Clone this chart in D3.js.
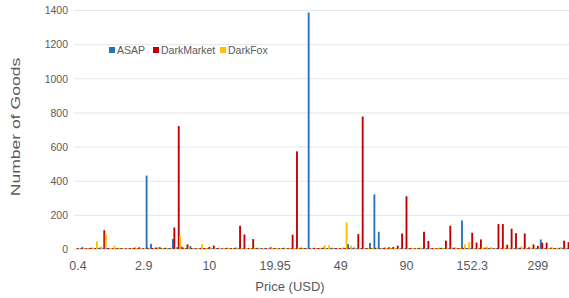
<!DOCTYPE html>
<html>
<head>
<meta charset="utf-8">
<script src="https://cdn.jsdelivr.net/npm/d3@7"></script>
<style>
  body { margin: 0; background: #fff; }
  text { font-family: "Liberation Sans", Arial, sans-serif; fill: #595959; }
</style>
</head>
<body>
<div id="chart"></div>
<script>
// ===== data =====
var seriesNames = ["ASAP", "DarkMarket", "DarkFox"];
var seriesColors = ["#2873b8", "#c00000", "#ffc000"];

// price labels shown every 15 categories
var tickLabels = ["0.4", "2.9", "10", "19.95", "49", "90", "152.3", "299"];
var tickEvery = 15;

var asap = [
    3, 5, 4, 6, 3, 5, 4, 6, 3, 4, 5, 3, 4, 6, 5,
    4, 430, 30, 8, 12, 6, 5, 58, 10, 14, 6, 17, 5, 4, 6,
    5, 4, 6, 3, 5, 4, 6, 5, 4, 3, 5, 6, 4, 5, 3,
    5, 4, 6, 3, 5, 4, 5, 6, 1385, 4, 5, 6, 4, 5, 6,
    5, 8, 28, 5, 4, 6, 5, 35, 320, 101, 6, 4, 5, 3, 5,
    4, 6, 3, 5, 4, 6, 5, 4, 6, 5, 4, 6, 5, 167, 6,
    5, 4, 6, 3, 5, 4, 6, 5, 4, 3, 5, 6, 4, 5, 3,
    5, 56, 6, 3, 5, 4, 6, 5, 4
];
var darkMarket = [
    6, 10, 5, 7, 6, 8, 110, 6, 5, 7, 6, 5, 6, 8, 10,
    5, 7, 6, 8, 5, 7, 6, 126, 720, 8, 27, 6, 5, 7, 6,
    12, 20, 6, 5, 7, 6, 8, 136, 85, 6, 58, 7, 5, 6, 10,
    6, 5, 7, 6, 84, 572, 8, 6, 5, 7, 6, 8, 5, 7, 6,
    5, 6, 7, 8, 87, 776, 6, 5, 7, 6, 8, 10, 12, 20, 91,
    309, 6, 5, 7, 101, 47, 6, 5, 7, 49, 136, 8, 6, 7, 5,
    95, 37, 56, 8, 6, 5, 146, 146, 25, 119, 93, 8, 91, 10, 27,
    18, 37, 37, 8, 6, 7, 49, 40, 10
];
var darkFox = [
    4, 5, 6, 8, 45, 15, 88, 5, 20, 6, 4, 5, 7, 6, 5,
    6, 5, 4, 7, 5, 6, 8, 10, 76, 5, 6, 4, 5, 29, 6,
    5, 4, 6, 5, 7, 4, 6, 5, 8, 4, 6, 5, 4, 6, 5,
    4, 6, 5, 7, 4, 10, 6, 5, 4, 6, 5, 23, 22, 6, 5,
    4, 157, 20, 6, 5, 4, 6, 5, 7, 6, 8, 6, 5, 7, 6,
    5, 6, 4, 7, 5, 6, 5, 8, 6, 10, 12, 8, 6, 27, 41,
    6, 8, 10, 15, 12, 6, 5, 7, 6, 5, 8, 15, 6, 5, 7,
    6, 5, 7, 10, 8, 12, 6, 5, 4
];
var yTicks = [0, 200, 400, 600, 800, 1000, 1200, 1400];

var W = 569, H = 298;
var band = 4.38;
var plotLeft = 75.8, plotTop = 10, plotBottom = 249;

var svg = d3.select("#chart").append("svg")
    .attr("width", W)
    .attr("height", H);

var cats = d3.range(asap.length);
var x = d3.scaleBand().domain(cats).range([plotLeft, plotLeft + band * cats.length]).padding(0);
var xSub = d3.scaleBand().domain(seriesNames).range([0, x.bandwidth()]).padding(0);
var y = d3.scaleLinear().domain([0, 1400]).range([plotBottom, plotTop]);

// gridlines
svg.selectAll(".grid").data(yTicks).enter().append("line")
    .attr("x1", 74).attr("x2", W)
    .attr("y1", function(d){ return y(d) + 0.5 })
    .attr("y2", function(d){ return y(d) + 0.5 })
    .attr("stroke", "#e6e6e6")
    .attr("stroke-width", 1);

// y tick labels
svg.selectAll(".ylab").data(yTicks).enter().append("text")
    .attr("x", 68)
    .attr("y", function(d){ return y(d) })
    .attr("dy", "0.36em")
    .attr("text-anchor", "end")
    .attr("font-size", "10.5px")
    .attr("transform", function(d){ return "translate(0," + (y(d) * -0.12) + ") scale(1,1.12)" })
    .text(function(d){ return d });

// bars
var rows = cats.map(function(i){
    return [asap[i], darkMarket[i], darkFox[i]];
});
var groups = svg.selectAll(".cat").data(rows).enter().append("g")
    .attr("transform", function(d, i){ return "translate(" + x(i) + ",0)" });
groups.selectAll("rect").data(function(d){ return d }).enter().append("rect")
    .attr("x", function(d, j){ return xSub(seriesNames[j]) - 0.2 })
    .attr("width", xSub.bandwidth() + 0.4)
    .attr("y", function(d){ return y(d) })
    .attr("height", function(d){ return plotBottom - y(d) })
    .attr("fill", function(d, j){ return seriesColors[j] });

// x tick labels
svg.selectAll(".xlab").data(tickLabels).enter().append("text")
    .attr("x", function(d, k){ return x(k * tickEvery) + x.bandwidth() / 2 })
    .attr("y", 269.5)
    .attr("text-anchor", "middle")
    .attr("font-size", "12.5px")
    .text(function(d){ return d });

// axis titles
svg.append("text")
    .attr("x", 290).attr("y", 291)
    .attr("text-anchor", "middle")
    .attr("font-size", "13px")
    .text("Price (USD)");
svg.append("text")
    .attr("transform", "translate(20,127) scale(1,1.3) rotate(-90)")
    .attr("text-anchor", "middle")
    .attr("font-size", "13.5px")
    .text("Number of Goods");

// legend
var legX = [109, 153, 220];
var leg = svg.selectAll(".leg").data(seriesNames).enter().append("g")
    .attr("transform", function(d, i){ return "translate(" + legX[i] + ",47)" });
leg.append("rect")
    .attr("width", 6).attr("height", 6)
    .attr("fill", function(d, i){ return seriesColors[i] });
leg.append("text")
    .attr("x", 8).attr("y", 6.5)
    .attr("font-size", "10.5px")
    .text(function(d){ return d });
</script>
</body>
</html>
